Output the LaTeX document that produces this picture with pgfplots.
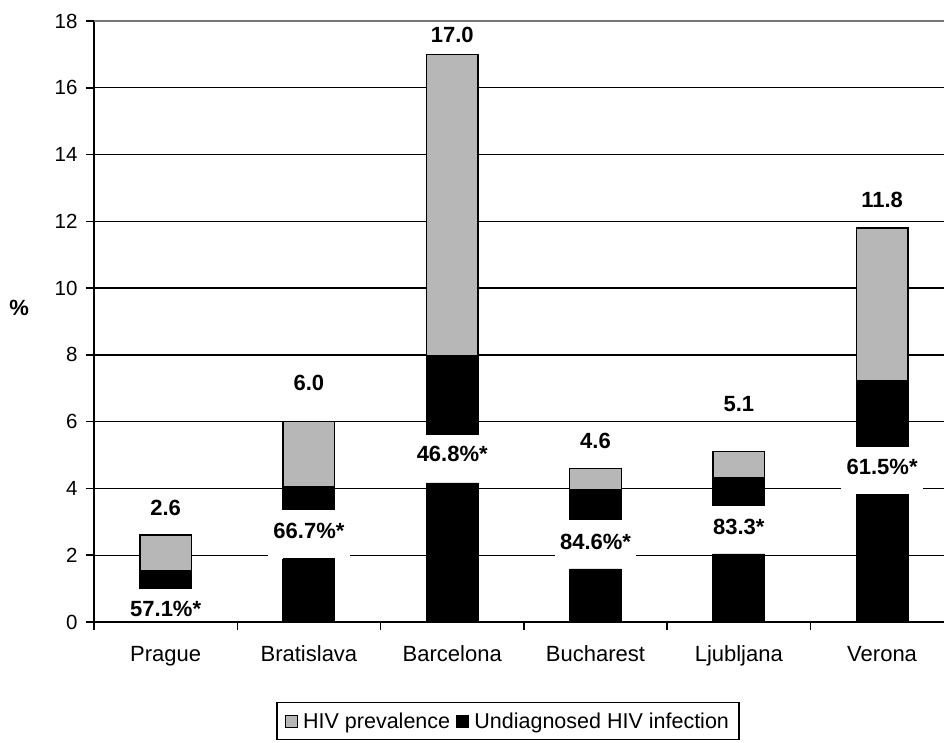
\documentclass[border=0pt]{standalone}
\usepackage{pgfplots}
\pgfplotsset{compat=1.18}
\usepackage{fontspec}
\setmainfont{Liberation Sans}
\definecolor{hivgrey}{RGB}{183,183,183}
\definecolor{topgrid}{RGB}{120,120,120}
\pgfplotsset{sqlegend/.style={legend image code/.code={\draw[##1,line width=1pt] (0pt,-6pt) rectangle (12pt,6pt);\path (15pt,0pt);}}}
\begin{document}
\begin{tikzpicture}
\begin{axis}[
  at={(0,0)}, anchor=south west,
  scale only axis, width=850pt, height=601pt,
  xmin=-0.5, xmax=5.432, ymin=0, ymax=18,
  axis x line*=bottom, axis y line*=left,
  axis line style={line width=1.6pt,-},
  tick align=outside,
  major tick length=8pt,
  ytick={0,2,...,16},
  extra y ticks={18},
  extra y tick style={grid style={topgrid,line width=1.3pt}},
  ymajorgrids,
  grid style={black,line width=1.4pt},
  y tick style={black,line width=1.5pt},
  xtick={0,...,5},
  xticklabels={Prague,Bratislava,Barcelona,Bucharest,Ljubljana,Verona},
  x tick style={draw=none},
  extra x ticks={-0.5,0.5,1.5,2.5,3.5,4.5},
  extra x tick labels={},
  extra x tick style={x tick style={draw=black,line width=1.5pt}},
  /pgf/number format/assume math mode=true,
  yticklabel style={font=\fontsize{20.5}{24}\selectfont, xshift=-5pt},
  xticklabel style={font=\fontsize{22}{26}\selectfont, text height=16pt, text depth=5pt, yshift=-12pt},
  legend style={at={(axis description cs:0.487,-0.133)}, anchor=north,
    legend columns=2, draw=black, line width=1.2pt,
    font=\fontsize{21.5}{25}\selectfont,
    /tikz/every even column/.append style={column sep=4pt},
    inner xsep=8pt, inner ysep=8pt},
  clip=false,
]
\addplot[ybar, bar shift=0pt, bar width=0.36, fill=hivgrey, draw=black, line width=1.5pt, sqlegend]
  coordinates {(0,2.6)(1,6.0)(2,17.0)(3,4.6)(4,5.1)(5,11.8)};
\addlegendentry{HIV prevalence}
\addplot[ybar, bar shift=0pt, bar width=0.36, fill=black, draw=black, line width=1.5pt, sqlegend]
  coordinates {(0,1.54)(1,4.05)(2,7.97)(3,3.95)(4,4.31)(5,7.23)};
\addlegendentry{Undiagnosed HIV infection}
% white label boxes
\addplot[fill=white, draw=none, forget plot] coordinates {(-0.285,0.04)(0.285,0.04)(0.285,0.99)(-0.285,0.99)};
\addplot[fill=white, draw=none, forget plot] coordinates {(0.715,1.90)(1.285,1.90)(1.285,3.35)(0.715,3.35)};
\addplot[fill=white, draw=none, forget plot] coordinates {(1.715,4.17)(2.285,4.17)(2.285,5.60)(1.715,5.60)};
\addplot[fill=white, draw=none, forget plot] coordinates {(2.715,1.59)(3.285,1.59)(3.285,3.05)(2.715,3.05)};
\addplot[fill=white, draw=none, forget plot] coordinates {(3.715,2.04)(4.285,2.04)(4.285,3.47)(3.715,3.47)};
\addplot[fill=white, draw=none, forget plot] coordinates {(4.715,3.82)(5.285,3.82)(5.285,5.25)(4.715,5.25)};
% lower black bars
\addplot[ybar, bar shift=0pt, bar width=0.36, fill=black, draw=black, line width=0.5pt, forget plot]
  coordinates {(1,1.90)(2,4.17)(3,1.59)(4,2.04)(5,3.82)};
% total labels
\addplot[draw=none, mark=none, forget plot, nodes near coords, point meta=explicit symbolic,
  nodes near coords align=center,
  every node near coord/.append style={anchor=center, font=\bfseries\fontsize{22}{26}\selectfont}]
  coordinates {(0,3.41)[2.6] (1,7.16)[6.0] (2,17.58)[17.0] (3,5.43)[4.6] (4,6.53)[5.1] (5,12.64)[11.8]};
% percentage labels
\addplot[draw=none, mark=none, forget plot, nodes near coords, point meta=explicit symbolic,
  nodes near coords align=center,
  every node near coord/.append style={anchor=center, font=\bfseries\fontsize{22}{26}\selectfont}]
  coordinates {(0,0.39)[57.1\%*] (1,2.73)[66.7\%*] (2,5.03)[46.8\%*] (3,2.40)[84.6\%*] (4,2.85)[83.3*] (5,4.65)[61.5\%*]};
\node[font=\bfseries\fontsize{22}{26}\selectfont, anchor=center] at (axis description cs:-0.088,0.522) {\%};
\end{axis}
\pgfresetboundingbox
\useasboundingbox (-94pt,-120pt) rectangle (850pt,622pt);
\end{tikzpicture}
\end{document}
